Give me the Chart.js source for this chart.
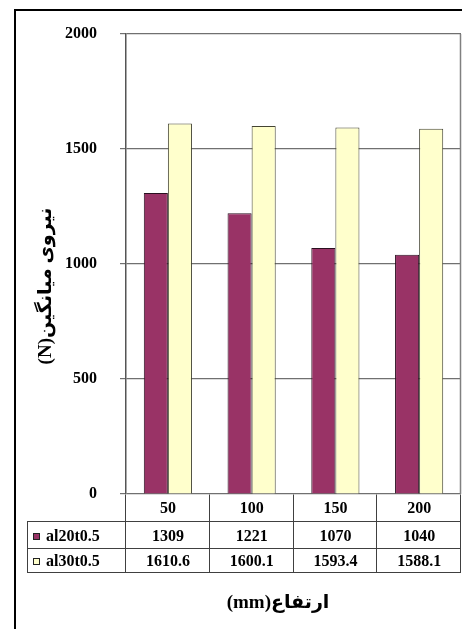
<!DOCTYPE html>
<html>
<head>
<meta charset="utf-8">
<script src="https://cdn.jsdelivr.net/npm/chart.js@4/dist/chart.umd.min.js"></script>
<style>
  html, body { margin: 0; padding: 0; background: #ffffff; }
  canvas { display: block; }
</style>
</head>
<body>
<canvas id="chart" width="462" height="629"></canvas>
<script>
// Heights (mm) on the category axis
const categories = ['50', '100', '150', '200'];
// Average force (N) for each specimen series
const al20t05 = [1309, 1221, 1070, 1040];
const al30t05 = [1610.6, 1600.1, 1593.4, 1588.1];
const seriesNames = ['al20t0.5', 'al30t0.5'];
// Value axis range and step
const yMin = 0;
const yMax = 2000;
const yStep = 500;

const xTitle = 'ارتفاع(mm)';
const yTitle = 'نیروی میانگین(N)';

const FONT = '"Liberation Serif", "Times New Roman", "DejaVu Serif", serif';
const AR_FONT = '"Liberation Serif", "DejaVu Sans", serif';

// Heights of the data-table rows under the plot
const rowHeights = [27, 27, 24];
const tableLeft = 27;

const framePlugin = {
  id: 'frameAndTable',
  beforeDraw(chart) {
    const ctx = chart.ctx;
    ctx.save();
    ctx.fillStyle = '#ffffff';
    ctx.fillRect(0, 0, chart.width, chart.height);
    // outer chart border
    ctx.strokeStyle = '#000000';
    ctx.lineWidth = 2;
    ctx.beginPath();
    ctx.moveTo(15, chart.height);
    ctx.lineTo(15, 10);
    ctx.lineTo(chart.width, 10);
    ctx.stroke();
    ctx.restore();
  },
  afterDraw(chart) {
    const ctx = chart.ctx;
    const area = chart.chartArea;
    const xs = chart.scales.x;
    const n = chart.data.labels.length;
    const colW = (xs.right - xs.left) / n;
    const top = Math.round(area.bottom) + 0.5;
    const r1 = top + rowHeights[0];
    const r2 = r1 + rowHeights[1];
    const r3 = r2 + rowHeights[2];
    const right = Math.round(area.right) - 0.5;

    ctx.save();
    // right edge of the plot frame
    ctx.strokeStyle = '#808080';
    ctx.lineWidth = 1.5;
    ctx.beginPath();
    ctx.moveTo(right, area.top);
    ctx.lineTo(right, area.bottom);
    ctx.stroke();

    // data table grid
    ctx.strokeStyle = '#404040';
    ctx.lineWidth = 1;
    ctx.beginPath();
    for (let i = 0; i <= n; i++) {
      const x = Math.round(xs.left + i * colW) - 0.5;
      ctx.moveTo(x, top);
      ctx.lineTo(x, r3);
    }
    ctx.moveTo(tableLeft + 0.5, r1);
    ctx.lineTo(tableLeft + 0.5, r3);
    [r1, r2, r3].forEach(y => {
      ctx.moveTo(tableLeft, y);
      ctx.lineTo(right + 0.5, y);
    });
    ctx.stroke();

    ctx.fillStyle = '#000000';
    ctx.font = 'bold 16px ' + FONT;
    ctx.textBaseline = 'middle';
    ctx.textAlign = 'center';
    // category row
    chart.data.labels.forEach((lab, i) => {
      ctx.fillText(lab, xs.getPixelForValue(i), (top + r1) / 2 + 1);
    });
    // series rows
    const rowTops = [r1, r2];
    const rowBots = [r2, r3];
    chart.data.datasets.forEach((ds, d) => {
      const cy = (rowTops[d] + rowBots[d]) / 2 + 1.5;
      ctx.textAlign = 'center';
      ds.data.forEach((v, i) => {
        ctx.fillText(String(v), xs.getPixelForValue(i), cy);
      });
      // legend key
      ctx.fillStyle = ds.backgroundColor;
      ctx.fillRect(33, Math.round(cy) - 4, 7, 7);
      ctx.strokeStyle = '#222222';
      ctx.strokeRect(33.5, Math.round(cy) - 3.5, 6, 6);
      ctx.fillStyle = '#000000';
      ctx.textAlign = 'left';
      ctx.fillText(ds.label, 46, cy);
    });

    // axis titles (right-to-left text)
    ctx.direction = 'rtl';
    ctx.textAlign = 'center';
    ctx.font = 'bold 19px ' + AR_FONT;
    ctx.fillText(xTitle, 278, 603);
    ctx.translate(46, 286);
    ctx.rotate(-Math.PI / 2);
    ctx.fillText(yTitle, 0, 0);
    ctx.restore();
  }
};

new Chart(document.getElementById('chart'), {
  type: 'bar',
  data: {
    labels: categories,
    datasets: [
      {
        label: seriesNames[0],
        data: al20t05,
        backgroundColor: '#993366',
        borderColor: '#2a1020',
        borderWidth: 1,
        borderSkipped: 'bottom'
      },
      {
        label: seriesNames[1],
        data: al30t05,
        backgroundColor: '#FFFFCC',
        borderColor: '#444433',
        borderWidth: 1,
        borderSkipped: 'bottom'
      }
    ]
  },
  options: {
    responsive: false,
    animation: false,
    devicePixelRatio: 1,
    layout: { padding: { left: 0, top: 34, right: 1, bottom: 0 } },
    plugins: {
      legend: { display: false },
      tooltip: { enabled: false },
      title: { display: false }
    },
    datasets: {
      bar: { categoryPercentage: 0.575, barPercentage: 1.0 }
    },
    scales: {
      x: {
        ticks: { display: false },
        grid: { display: false, drawTicks: false },
        border: { display: false },
        afterFit(scale) { scale.height = 135; }
      },
      y: {
        min: yMin,
        max: yMax,
        ticks: {
          stepSize: yStep,
          color: '#000000',
          padding: 23,
          font: { family: FONT, size: 16, weight: 'bold' },
          callback: v => String(v)
        },
        grid: {
          color: '#707070',
          lineWidth: 1.2,
          tickLength: 6,
          drawTicks: true
        },
        border: { display: true, color: '#555555', width: 1.5 },
        afterFit(scale) { scale.width = 126; }
      }
    }
  },
  plugins: [framePlugin]
});
</script>
</body>
</html>
